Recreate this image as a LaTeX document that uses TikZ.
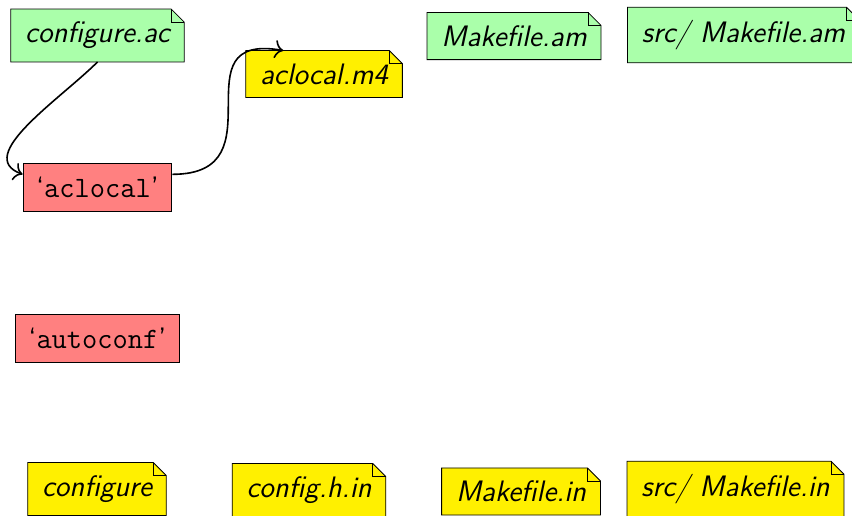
\documentclass[tikz,border=0pt]{standalone}
\usetikzlibrary{backgrounds}
\usetikzlibrary{arrows.meta}

\definecolor{srcgreen}{RGB}{170,255,170}
\definecolor{genyellow}{RGB}{255,240,0}
\definecolor{progred}{RGB}{255,128,128}

\newcommand{\foldsize}{6.5pt}
% a file: a box with a folded corner
\newcommand{\filenode}[4]{%
  \node[filetext] (#1) at (#2) {#4};
  \begin{pgfonlayer}{background}
    \draw[fill=#3] (#1.south west) -- (#1.north west) -- ([xshift=-\foldsize]#1.north east)
      -- ([yshift=-\foldsize]#1.north east) -- (#1.south east) -- cycle;
    \draw ([xshift=-\foldsize]#1.north east) -- ([xshift=-\foldsize, yshift=-\foldsize]#1.north east)
      -- ([yshift=-\foldsize]#1.north east);
  \end{pgfonlayer}
}

\begin{document}
\begin{tikzpicture}[
    filetext/.style={inner xsep=7pt, inner ysep=6.3pt, font=\fontsize{14.8}{18}\selectfont\sffamily\slshape},
    prog/.style={draw, fill=progred, inner xsep=6.5pt, inner ysep=6.7pt, font=\fontsize{14.8}{18}\selectfont\sffamily},
  ]
    \useasboundingbox (0, 0) rectangle (14.972, -9.050);

    % sources
    \filenode{conf-ac}{1.713, -0.624}{srcgreen}{configure.ac}
    \filenode{mk-am}{9.033, -0.633}{srcgreen}{Makefile.am}
    \filenode{srcmk-am}{13.065, -0.615}{srcgreen}{src/ Makefile.am}

    % programs
    \node[prog] (aclocal) at (1.713, -3.295) {`\texttt{aclocal}'};
    \node[prog] (autoconf) at (1.713, -5.948) {`\texttt{autoconf}'};

    % generated files
    \filenode{aclocal-m4}{5.694, -1.300}{genyellow}{aclocal.m4}
    \filenode{configure}{1.705, -8.593}{genyellow}{configure}
    \filenode{config-h-in}{5.430, -8.611}{genyellow}{config.h.in}
    \filenode{mk-in}{9.156, -8.637}{genyellow}{Makefile.in}
    \filenode{srcmk-in}{12.925, -8.593}{genyellow}{src/ Makefile.in}

    \draw[thick, -{To[scale=1.3]}] (conf-ac.south) to[out=-135, in=160] (aclocal.170);
    \draw[thick, -{To[scale=1.3]}] (aclocal.10) to[out=0, in=170, looseness=1.7] (aclocal-m4.150);

\end{tikzpicture}
\end{document}
